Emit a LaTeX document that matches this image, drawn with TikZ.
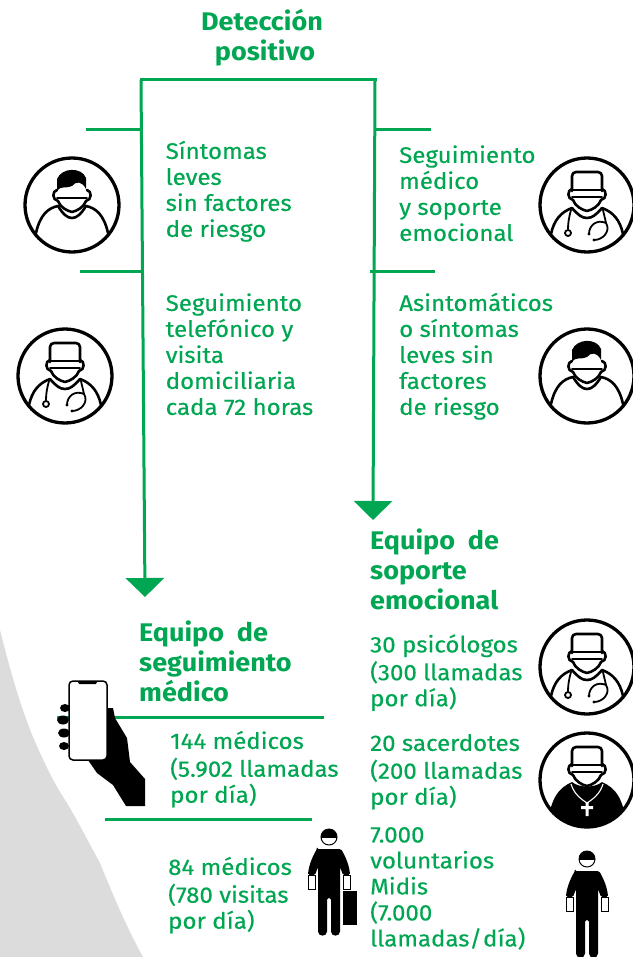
\documentclass[tikz,border=0pt]{standalone}
\usepackage{fontspec}
\setmainfont{Fira Sans}
\newfontfamily\gtxt[FakeBold=0.35,FakeStretch=1.07]{Fira Sans}
\newfontfamily\gttl[FakeStretch=1.06]{Fira Sans}
\usetikzlibrary{arrows.meta}
\definecolor{gverde}{HTML}{00A651}
\definecolor{ggris}{HTML}{DCDCDC}
\tikzset{
  gl/.style={draw=gverde,line width=3pt},
  tip/.style={-{Triangle[length=19pt,width=38pt]}},
  txt/.style={text=gverde,inner sep=0pt,anchor=north west,align=left,font=\fontsize{22.5}{26}\selectfont\gtxt},
  ttl/.style={text=gverde,inner sep=0pt,anchor=north west,align=left,font=\fontsize{25.5}{30}\selectfont\gttl\bfseries},
  ic/.style={draw=black,line width=2.6pt,line join=round,line cap=round},
  headmask/.pic={
    \draw[ic] (-15,-15) .. controls (-20,-14) and (-20,-5) .. (-14,-4) .. controls (-12,2) and (-5,6) .. (0,7) .. controls (5,6) and (12,2) .. (14,-4) .. controls (20,-5) and (20,-14) .. (15,-15);
    \draw[ic,line width=1.6pt] (-15,-7) -- (15,-7);
  },
  patient/.pic={
    \draw[ic,line width=3.3pt] (0,0) circle (47);
    \pic at (0,0) {headmask};
    \fill[black] (-15,-14) -- (-15,-26) .. controls (-10,-38) and (10,-38) .. (14,-27) -- (14,-16) .. controls (10,-24) and (4,-24) .. (0,-19) .. controls (-5,-16) and (-11,-20) .. (-15,-14) -- cycle;
    \draw[ic] (-36,28) .. controls (-32,10) and (-24,3) .. (-14,1) .. controls (-9,9) and (-5,13) .. (0,13) .. controls (5,13) and (9,9) .. (14,1) .. controls (24,3) and (32,10) .. (36,28);
  },
  doctor/.pic={
    \draw[ic,line width=3.3pt] (0,0) circle (47);
    \pic at (0,-1) {headmask};
    \draw[ic,fill=white,rounded corners=4pt] (-15,-14) -- (-15,-33) -- (15,-33) -- (15,-14);
    \draw[ic,line width=1.6pt] (-15,-15) -- (15,-15);
    \draw[ic] (-36,29) .. controls (-33,15) and (-26,7) .. (-15,3) .. controls (-9,10) and (-5,13) .. (0,13) .. controls (5,13) and (9,10) .. (15,3) .. controls (26,7) and (33,15) .. (36,29);
    \draw[ic,line width=1.8pt] (-16,5) .. controls (-18,12) and (-19,18) .. (-19,24);
    \draw[ic,line width=1.8pt] (-19,28) circle (3);
    \draw[ic,line width=1.8pt] (16,5) .. controls (17,10) and (18,13) .. (19,18) .. controls (10,14) and (2,20) .. (2,29);
    \draw[ic,line width=1.8pt] (19,18) .. controls (24,26) and (16,35) .. (7,35);
    \fill (2,29) circle (1.6) (7,35) circle (1.6);
  },
  priest/.pic={
    \begin{scope}
      \clip (0,0) circle (47);
      \fill[black] (-15,2) .. controls (-28,8) and (-37,17) .. (-40,50) -- (40,50) .. controls (37,17) and (28,8) .. (15,2) .. controls (8,8) and (-8,8) .. (-15,2) -- cycle;
    \end{scope}
    \draw[ic,line width=3.3pt] (0,0) circle (47);
    \pic at (0,-1) {headmask};
    \draw[ic,fill=white,rounded corners=4pt] (-15,-14) -- (-15,-33) -- (15,-33) -- (15,-14);
    \draw[ic,line width=1.6pt] (-15,-15) -- (15,-15);
    \draw[white,line width=1.1pt] (-16,4) .. controls (-13,14) and (-6,19) .. (0,23) .. controls (6,19) and (13,14) .. (16,4);
    \fill[white] (-1.5,22) rectangle (1.5,36) (-6,26) rectangle (6,29);
  },
  person/.pic={
    \draw[black,line width=1pt,fill=white] (0,0) circle (8);
    \fill[black] (-8,1) .. controls (-8,-11) and (8,-11) .. (8,1) -- cycle;
    \fill[black,rounded corners=1.5pt] (-12,12) -- (12,12) .. controls (17,20) and (20.5,30) .. (21,38) -- (14,38) -- (11,30) -- (11,93) .. controls (11,100) and (2,100) .. (2,93) -- (2,61) -- (-2,61) -- (-2,93) .. controls (-2,100) and (-11,100) .. (-11,93) -- (-11,30) -- (-14,38) -- (-21,38) .. controls (-20.5,30) and (-17,20) .. (-12,12) -- cycle;
    \draw[black,line width=.9pt,fill=white] (-21,38) rectangle (-14,52) (14,38) rectangle (21,52);
  },
}
\begin{document}
\begin{tikzpicture}[x=1pt,y=-1pt]
\useasboundingbox (0,0) rectangle (632,957);
\fill[ggris] (0,630) .. controls (10,670) and (20,705) .. (33,737) .. controls (45,765) and (55,785) .. (67,803) .. controls (80,825) and (90,845) .. (100,863) .. controls (115,900) and (128,930) .. (143,957) -- (0,957) -- cycle;

% coordinates for connectors
\coordinate (topL) at (141,80);
\coordinate (topR) at (375,80);
\coordinate (tipL) at (145,597);
\coordinate (tipR) at (373,520);
\coordinate (t1a) at (86,130);  \coordinate (t1b) at (141,130);
\coordinate (t2a) at (80,272);  \coordinate (t2b) at (141,272);
\coordinate (t3a) at (374,130); \coordinate (t3b) at (431,130);
\coordinate (t4a) at (370,272); \coordinate (t4b) at (435,272);
\coordinate (t5a) at (57,717);  \coordinate (t5b) at (324,717);
\coordinate (t6a) at (105,819); \coordinate (t6b) at (312,819);

\draw[gl,tip] (topL) -- (tipL);
\draw[gl,tip] (topR) -- (tipR);
\draw[gl,line cap=rect] (topL) -- (topR);
\draw[gl] (t1a) -- (t1b);
\draw[gl] (t2a) -- (t2b);
\draw[gl] (t3a) -- (t3b);
\draw[gl] (t4a) -- (t4b);
\draw[gl] (t5a) -- (t5b);
\draw[gl] (t6a) -- (t6b);

% texts
\node[ttl,anchor=north,align=center] (det) at (262,9) {\strut Detección\\\hspace*{6pt}positivo};
\node[txt] (a1) at (165.5,140.5) {\strut Síntomas\\leves\\sin factores\\de riesgo};
\node[txt] (a2) at (165.5,292.5) {\strut Seguimiento\\telefónico y\\visita\\domiciliaria\\cada 72 horas};
\node[txt] (b1) at (399,144.5) {\strut Seguimiento\\médico\\y soporte\\emocional};
\node[txt] (b2) at (399,292.5) {\strut Asintomáticos\\o síntomas\\leves sin\\factores\\de riesgo};
\node[ttl] (t1) at (370,528.5) {\strut Equipo\ \ de\\soporte\\emocional};
\node[ttl] (t2) at (139,620.5) {\strut Equipo\ \ de\\seguimiento\\médico};
\node[txt] (c1) at (370,634) {\strut 30 psicólogos\\(300 llamadas\\por día)};
\node[txt] (c2) at (370,732.5) {\strut 20 sacerdotes\\(200 llamadas\\por día)};
\node[txt] (c3) at (370,824) {\strut 7.000\\voluntarios\\Midis\\(7.000\\llamadas/\hspace{1pt}día)};
\node[txt] (d1) at (170,730.5) {\strut 144 médicos\\(5.902 llamadas\\por día)};
\node[txt] (d2) at (168,856.5) {\strut 84 médicos\\(780 visitas\\por día)};

% icons
\pic at (72,205) {patient};
\pic at (65,376) {doctor};
\pic at (587,205) {doctor};
\pic at (587,376) {patient};
\pic at (587,667) {doctor};
\pic at (587,780) {priest};
\pic at (587,859) {person};
\pic at (329,837) {person};
\fill[black] (343,891) rectangle (357,925);

% hand with phone
\fill[black] (65,708) ellipse (5 and 4) (63,720) ellipse (6 and 4.5) (64,733) ellipse (6 and 4.5) (64,746) ellipse (5 and 4);
\fill[black] (100,708) -- (108,708) -- (113,708) -- (115,718) -- (127,738) -- (130,762) -- (145,779) -- (145,806) -- (126,806) -- (113,785) -- (97,773) -- (88,760) -- (88,740) -- cycle;
\draw[black,line width=1.5pt,fill=white,rounded corners=4pt] (69,681) rectangle (107,760);
\fill[black,rounded corners=1.5pt] (78,681) -- (97,681) -- (97,684) -- (78,684) -- cycle;
\end{tikzpicture}
\end{document}
